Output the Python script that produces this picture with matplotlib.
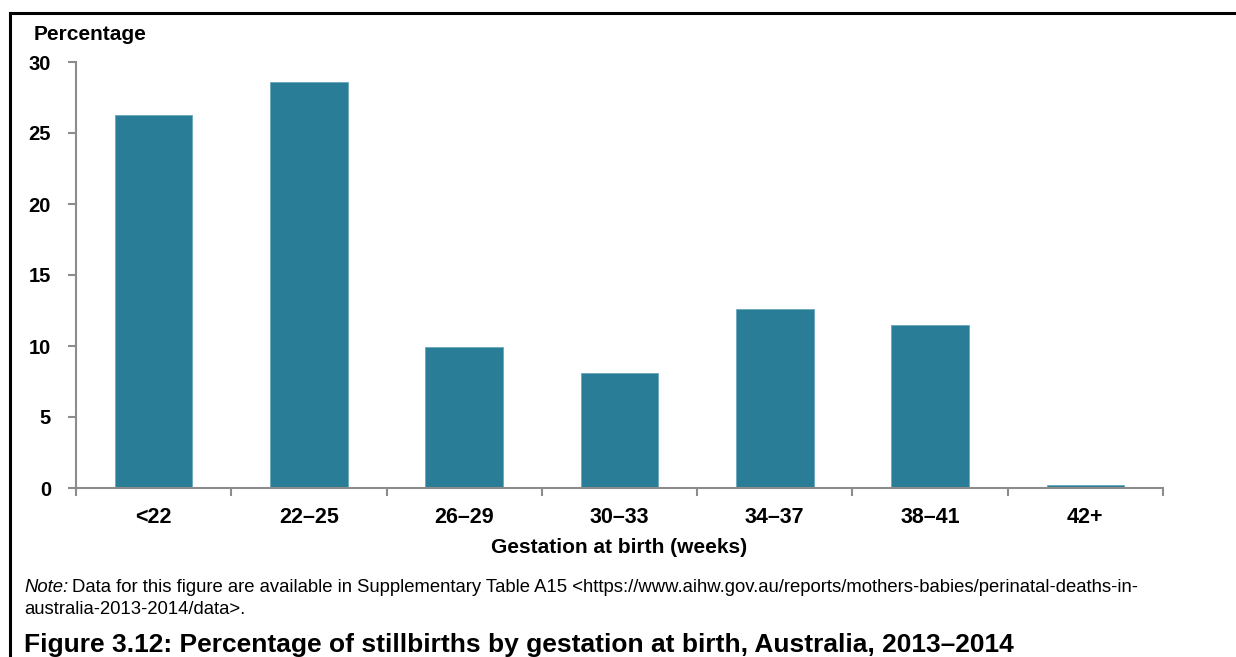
import numpy as np
import matplotlib.pyplot as plt
from matplotlib.lines import Line2D

# data
categories = ['<22', '22\u201325', '26\u201329', '30\u201333', '34\u201337', '38\u201341', '42+']
percentages = [26.3, 28.6, 9.9, 8.1, 12.6, 11.5, 0.2]
y_ticks = [0, 5, 10, 15, 20, 25, 30]

bar_color = '#2a7d96'
axis_grey = '#8c8c8c'

plt.rcParams['font.family'] = ['Liberation Sans', 'DejaVu Sans']

W, H = 1236, 657
fig = plt.figure(figsize=(W / 100, H / 100), dpi=100)
ax = fig.add_axes([76 / W, 1 - 488 / H, (1163 - 76) / W, (488 - 62) / H])

x = np.arange(len(categories))
ax.bar(x, percentages, width=0.5, color=bar_color, edgecolor='#6aa8bb', linewidth=0.6)

ax.set_xlim(-0.5, len(categories) - 0.5)
ax.set_ylim(0, 30)
ax.set_yticks(y_ticks)
ax.set_yticklabels([str(t) for t in y_ticks], fontsize=14.5, fontweight='bold')
ax.set_xticks(x)
ax.set_xticklabels(categories, fontsize=15.5, fontweight='bold')
ax.set_xticks(np.arange(len(categories) + 1) - 0.5, minor=True)

ax.tick_params(axis='x', which='major', length=0, pad=14)
ax.tick_params(axis='x', which='minor', length=6, width=1.5, color=axis_grey, direction='out')
ax.tick_params(axis='y', which='major', length=6, width=1.5, color=axis_grey, pad=12)

for side in ['top', 'right']:
    ax.spines[side].set_visible(False)
for side in ['left', 'bottom']:
    ax.spines[side].set_color(axis_grey)
    ax.spines[side].set_linewidth(1.5)

ax.set_xlabel('Gestation at birth (weeks)', fontsize=15, fontweight='bold', labelpad=7)
fig.text(34 / W, 1 - 34 / H, 'Percentage', fontsize=15, fontweight='bold',
         ha='left', va='center')

# note and caption
note = fig.text(24 / W, 1 - 588 / H, 'Note:', fontsize=13.3, style='italic',
                ha='left', va='center')
renderer = fig.canvas.get_renderer()
nb = note.get_window_extent(renderer)
fig.text((nb.x1 + 4) / W, 1 - 588 / H,
         'Data for this figure are available in Supplementary Table A15 '
         '<https://www.aihw.gov.au/reports/mothers-babies/perinatal-deaths-in-',
         fontsize=13.3, ha='left', va='center')
fig.text(24 / W, 1 - 610 / H, 'australia-2013-2014/data>.',
         fontsize=13.3, ha='left', va='center')
fig.text(24 / W, 1 - 645 / H,
         'Figure 3.12: Percentage of stillbirths by gestation at birth, Australia, 2013\u20132014',
         fontsize=19, fontweight='bold', ha='left', va='center')

# frame around the figure
fig.add_artist(Line2D([10 / W, 10 / W], [0, 1 - 13 / H],
                      transform=fig.transFigure, color='black', linewidth=2.2))
fig.add_artist(Line2D([10 / W, 1], [1 - 13 / H, 1 - 13 / H],
                      transform=fig.transFigure, color='black', linewidth=2.2))

fig.savefig('out.png', dpi=100)
